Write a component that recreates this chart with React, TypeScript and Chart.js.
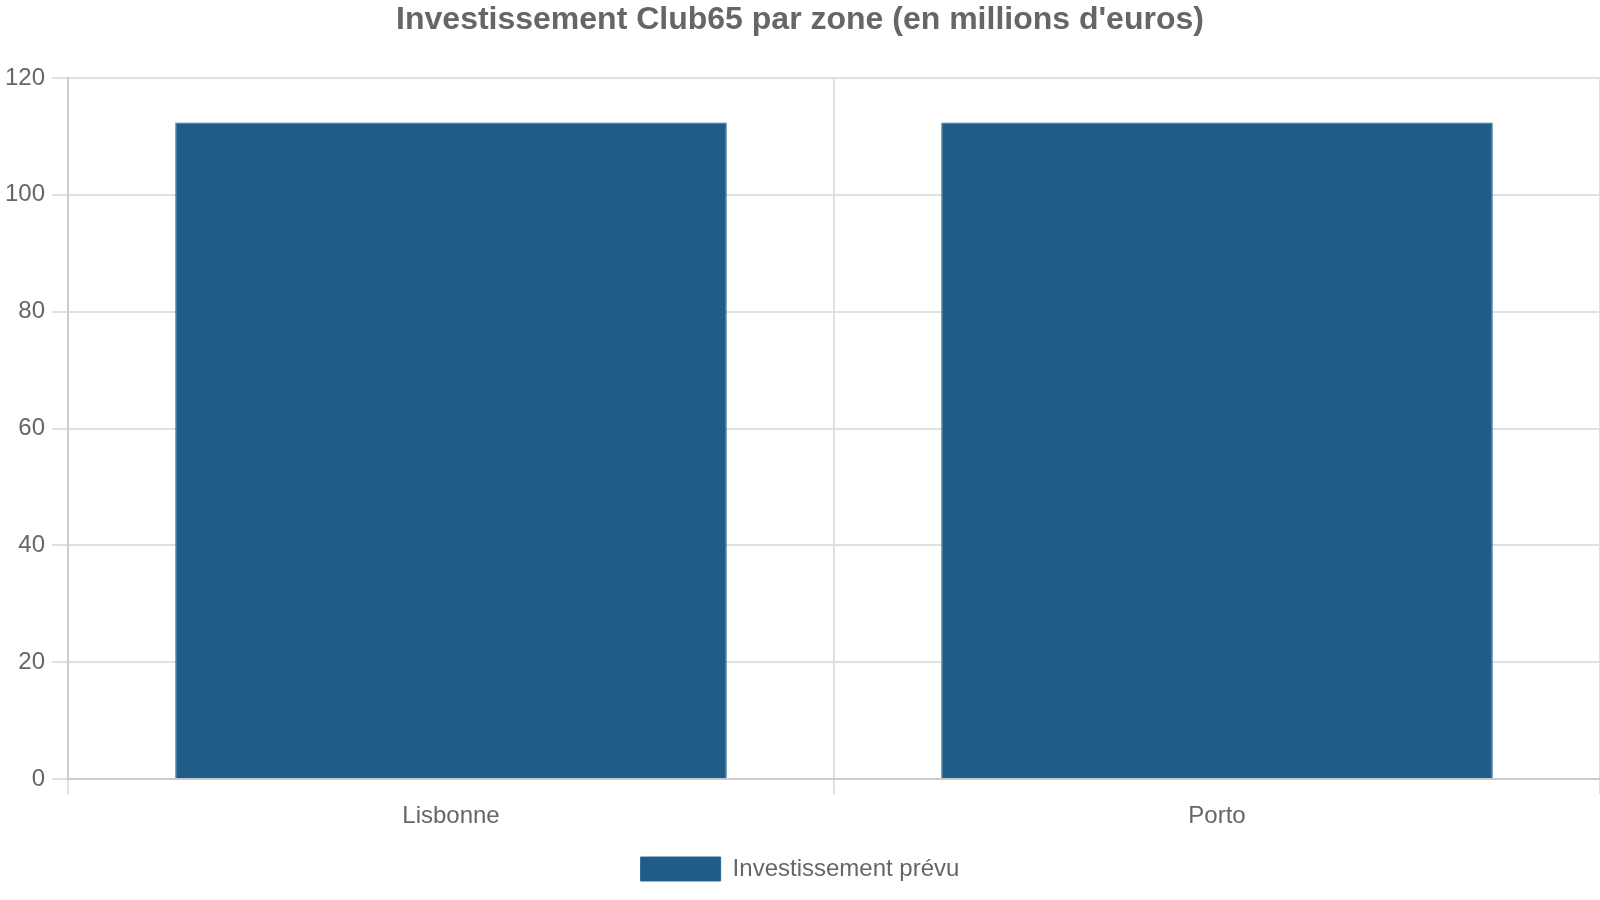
import React, { useEffect, useRef } from "react";
import { Chart, registerables } from "chart.js";

Chart.register(...registerables);

const categories = ["Lisbonne", "Porto"];
const seriesLabel = "Investissement prévu";
const investValues = [112.4, 112.4];
const titleText = "Investissement Club65 par zone (en millions d'euros)";

export default function App() {
  const ref = useRef<HTMLCanvasElement | null>(null);

  useEffect(() => {
    document.body.style.margin = "0";
    const ctx = ref.current;
    if (!ctx) return;
    const font = "'Liberation Sans', Arial, sans-serif";
    const chart = new Chart(ctx, {
      type: "bar",
      data: {
        labels: categories,
        datasets: [
          {
            label: seriesLabel,
            data: investValues,
            backgroundColor: "#1f5c87",
            borderColor: "#2a6790",
            borderWidth: 1,
          },
        ],
      },
      options: {
        responsive: true,
        maintainAspectRatio: false,
        animation: false,
        layout: { padding: { left: 0, right: 0, top: 0, bottom: 9 } },
        plugins: {
          title: {
            display: true,
            text: titleText,
            color: "#666",
            font: { family: font, size: 32, weight: "bold" },
            padding: { top: 1, bottom: 38.6 },
          },
          legend: {
            position: "bottom",
            labels: {
              color: "#666",
              boxWidth: 80,
              boxHeight: 24,
              font: { family: font, size: 24 },
              padding: 18,
            },
          },
          tooltip: { enabled: false },
        },
        scales: {
          x: {
            grid: { color: "#e0e0e0", lineWidth: 2, drawTicks: true, tickLength: 15 },
            border: { color: "#cccccc", width: 2 },
            ticks: { color: "#666", font: { family: font, size: 24 }, padding: 8 },
          },
          y: {
            min: 0,
            max: 120,
            afterFit: (s: any) => {
              s.width = 68;
            },
            grid: { color: "#e0e0e0", lineWidth: 2, tickLength: 16 },
            border: { color: "#cccccc", width: 2 },
            ticks: { stepSize: 20, color: "#666", font: { family: font, size: 24 }, padding: 7 },
          },
        },
      },
    });
    return () => chart.destroy();
  }, []);

  return (
    <div style={{ width: "1600px", height: "900px", position: "relative" }}>
      <canvas ref={ref} />
    </div>
  );
}
